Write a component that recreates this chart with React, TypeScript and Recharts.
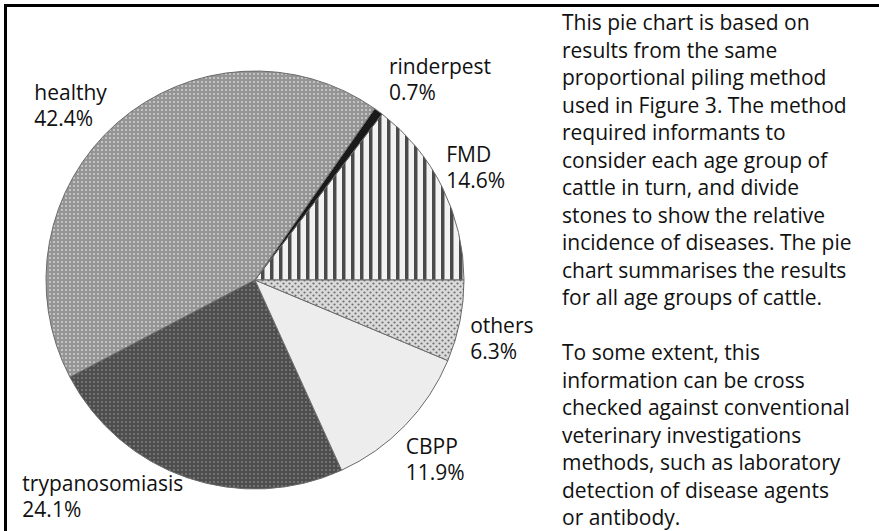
import React from 'react';
import { PieChart, Pie, Cell } from 'recharts';

// slices go counter-clockwise from 3 o'clock, same order as the figure
const diseases = ['FMD', 'rinderpest', 'healthy', 'trypanosomiasis', 'CBPP', 'others'];
const shares = [14.6, 0.7, 42.4, 24.1, 11.9, 6.3];

const noteParagraph1 = [
  'This pie chart is based on',
  'results from the same',
  'proportional piling method',
  'used in Figure 3. The method',
  'required informants to',
  'consider each age group of',
  'cattle in turn, and divide',
  'stones to show the relative',
  'incidence of diseases. The pie',
  'chart summarises the results',
  'for all age groups of cattle.',
];
const noteParagraph2 = [
  'To some extent, this',
  'information can be cross',
  'checked against conventional',
  'veterinary investigations',
  'methods, such as laboratory',
  'detection of disease agents',
  'or antibody.',
];

const pieData = diseases.map((name, i) => ({ name, value: shares[i] }));

const fills: Record<string, string> = {
  FMD: 'url(#pat-stripes)',
  rinderpest: '#1a1a1a',
  healthy: 'url(#pat-lightdots)',
  trypanosomiasis: 'url(#pat-darkdots)',
  CBPP: '#ededed',
  others: 'url(#pat-checker)',
};

// how far each label block sits from its default spot outside the slice
const labelNudge: Record<string, { dx: number; dy: number }> = {
  FMD: { dx: -32, dy: -8 },
  rinderpest: { dx: -13, dy: -5 },
  healthy: { dx: -56, dy: 7 },
  trypanosomiasis: { dx: -152, dy: -25 },
  CBPP: { dx: -28, dy: 1 },
  others: { dx: -29, dy: 4 },
};

const FONT = '"Open Sans", "DejaVu Sans", sans-serif';
const RADIAN = Math.PI / 180;

function SliceLabel(props: any) {
  const { cx, cy, midAngle, outerRadius, name, value } = props;
  const r = outerRadius + 40;
  const nudge = labelNudge[name] || { dx: 0, dy: 0 };
  const x = cx + r * Math.cos(-midAngle * RADIAN) + nudge.dx;
  const y = cy + r * Math.sin(-midAngle * RADIAN) + nudge.dy;
  return (
    <text x={x} y={y} fill="#111" fontSize={21} fontFamily={FONT} textAnchor="start">
      <tspan x={x} y={y}>{name}</tspan>
      <tspan x={x} y={y + 26}>{`${value.toFixed(1)}%`}</tspan>
    </text>
  );
}

export default function App() {
  return (
    <div
      style={{
        position: 'absolute',
        left: 0,
        top: 0,
        width: 879,
        height: 531,
        overflow: 'hidden',
        background: '#fff',
      }}
    >
      <svg width={0} height={0} style={{ position: 'absolute' }}>
        <defs>
          <pattern id="pat-lightdots" patternUnits="userSpaceOnUse" width={4} height={4}>
            <rect width={4} height={4} fill="#959595" />
            <circle cx={2} cy={2} r={1} fill="#d2d2d2" />
          </pattern>
          <pattern id="pat-darkdots" patternUnits="userSpaceOnUse" width={4} height={4}>
            <rect width={4} height={4} fill="#4e4e4e" />
            <circle cx={2} cy={2} r={0.9} fill="#828282" />
          </pattern>
          <pattern id="pat-stripes" patternUnits="userSpaceOnUse" width={9} height={9}>
            <rect width={9} height={9} fill="#f2f2f2" />
            <rect x={0} width={3} height={9} fill="#4a4a4a" />
            <rect x={3} width={1} height={9} fill="#a0a0a0" />
          </pattern>
          <pattern id="pat-checker" patternUnits="userSpaceOnUse" width={6} height={6}>
            <rect width={6} height={6} fill="#dadada" />
            <circle cx={1.5} cy={1.5} r={1.1} fill="#6e6e6e" />
            <circle cx={4.5} cy={4.5} r={1.1} fill="#6e6e6e" />
          </pattern>
        </defs>
      </svg>

      <PieChart width={879} height={531} style={{ position: 'absolute', left: 0, top: 0 }}>
        <Pie
          data={pieData}
          dataKey="value"
          nameKey="name"
          cx={250}
          cy={275}
          outerRadius={209}
          startAngle={0}
          endAngle={360}
          stroke="#6a6a6a"
          strokeWidth={1}
          label={SliceLabel}
          labelLine={false}
          isAnimationActive={false}
        >
          {pieData.map((d) => (
            <Cell key={d.name} fill={fills[d.name]} />
          ))}
        </Pie>
      </PieChart>

      <div
        style={{
          position: 'absolute',
          left: 562,
          top: 9,
          fontFamily: FONT,
          fontSize: 21,
          lineHeight: '27.5px',
          color: '#111',
          whiteSpace: 'nowrap',
        }}
      >
        {noteParagraph1.map((line) => (
          <div key={line}>{line}</div>
        ))}
        <div style={{ height: 27.5 }} />
        {noteParagraph2.map((line) => (
          <div key={line}>{line}</div>
        ))}
      </div>

      {/* frame: only the left and top edges fall inside the picture */}
      <div
        style={{
          position: 'absolute',
          left: 4,
          top: 4,
          width: 900,
          height: 560,
          borderLeft: '3px solid #000',
          borderTop: '3px solid #000',
          pointerEvents: 'none',
        }}
      />
    </div>
  );
}
